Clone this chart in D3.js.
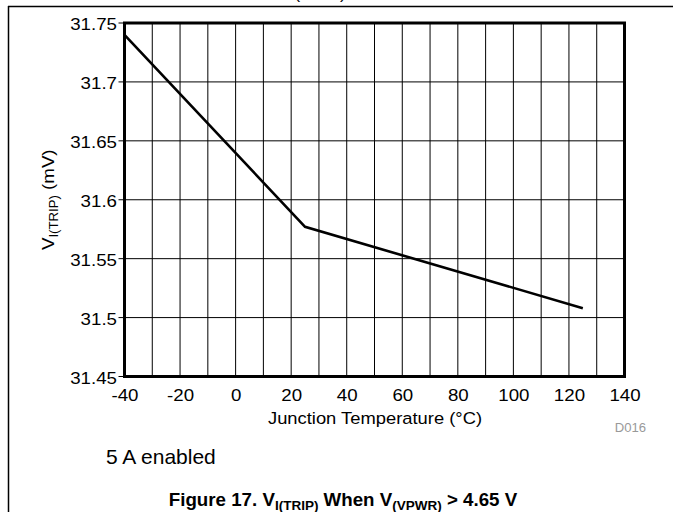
<!DOCTYPE html>
<html>
<head>
<meta charset="utf-8">
<script src="https://cdn.jsdelivr.net/npm/d3@7"></script>
<style>
  html, body { margin: 0; padding: 0; background: #fff; }
  svg { display: block; }
  text { font-family: "Liberation Sans", Arial, sans-serif; fill: #000; }
</style>
</head>
<body>
<svg id="chart" width="673" height="512"></svg>
<script>
// ---- data ----
const temperature = [-40, 25, 125];
const vTrip = [31.74, 31.577, 31.508];
const xTicks = [-40, -20, 0, 20, 40, 60, 80, 100, 120, 140];
const xGrid = d3.range(-40, 141, 10);
const yTicks = [31.45, 31.5, 31.55, 31.6, 31.65, 31.7, 31.75];
const yTickLabels = ["31.45", "31.5", "31.55", "31.6", "31.65", "31.7", "31.75"];

const SX = 1.1; // horizontal stretch of glyphs in reference
const svg = d3.select("#chart");

const x = d3.scaleLinear().domain([-40, 140]).range([124.5, 624.5]);
const y = d3.scaleLinear().domain([31.45, 31.75]).range([376.5, 23]);

// page rules
svg.append("line").attr("x1", 8).attr("x2", 673).attr("y1", 6.5).attr("y2", 6.5)
  .attr("stroke", "#000").attr("stroke-width", 1.5);
svg.append("line").attr("x1", 8.5).attr("x2", 8.5).attr("y1", 6).attr("y2", 512)
  .attr("stroke", "#000").attr("stroke-width", 1.5);

// clipped heading remnant (as in the reference)
svg.append("text").attr("transform", "translate(320,-1) scale(" + SX + ",1)")
  .attr("text-anchor", "middle").style("font-size", "16px").text("(TRIP)");

function stext(g, tx, ty, str, size, anchor, sx, weight) {
  return g.append("text")
    .attr("transform", `translate(${tx},${ty}) scale(${sx},1)`)
    .attr("text-anchor", anchor || "start")
    .style("font-size", size + "px")
    .style("font-weight", weight || "normal")
    .text(str);
}

// grid
const grid = svg.append("g");
grid.selectAll(".vg").data(xGrid).join("line")
  .attr("x1", d => x(d)).attr("x2", d => x(d))
  .attr("y1", y(31.75)).attr("y2", y(31.45))
  .attr("stroke", "#000").attr("stroke-width", 1);
grid.selectAll(".hg").data(yTicks).join("line")
  .attr("x1", x(-40) - 6).attr("x2", x(140))
  .attr("y1", d => y(d)).attr("y2", d => y(d))
  .attr("stroke", "#000").attr("stroke-width", 1);

// y axis labels
const yAx = svg.append("g").attr("transform", `translate(${x(-40)},0)`)
  .call(d3.axisLeft(y).tickValues(yTicks).tickFormat((d, i) => yTickLabels[i]).tickSize(0).tickPadding(0));
yAx.select(".domain").remove();
yAx.selectAll("text")
  .attr("x", null).attr("dy", null)
  .attr("transform", `translate(-7.5,6.5) scale(${SX},1)`)
  .attr("text-anchor", "end")
  .style("font-family", "Liberation Sans, Arial, sans-serif")
  .style("font-size", "17px").attr("fill", "#000");

// x axis labels
const xAx = svg.append("g").attr("transform", `translate(0,${y(31.45)})`)
  .call(d3.axisBottom(x).tickValues(xTicks).tickFormat(d => String(d)).tickSize(0).tickPadding(0));
xAx.select(".domain").remove();
xAx.selectAll("text")
  .attr("y", null).attr("dy", null)
  .attr("transform", `translate(0,24.5) scale(${SX},1)`)
  .attr("text-anchor", "middle")
  .style("font-family", "Liberation Sans, Arial, sans-serif")
  .style("font-size", "17px").attr("fill", "#000");

// data line
svg.append("path")
  .datum(temperature.map((t, i) => [t, vTrip[i]]))
  .attr("fill", "none").attr("stroke", "#000").attr("stroke-width", 2.6)
  .attr("stroke-linejoin", "miter")
  .attr("d", d3.line().x(d => x(d[0])).y(d => y(d[1])));

// frame
svg.append("rect")
  .attr("x", x(-40)).attr("y", y(31.75))
  .attr("width", x(140) - x(-40)).attr("height", y(31.45) - y(31.75))
  .attr("fill", "none").attr("stroke", "#000").attr("stroke-width", 3);

// axis titles
stext(svg, 375, 424, "Junction Temperature (°C)", 17, "middle", 1.08);

const yt = svg.append("text")
  .attr("transform", `translate(54,${(y(31.45) + y(31.75)) / 2}) rotate(-90) scale(${SX},1)`)
  .attr("text-anchor", "middle").style("font-size", "17px");
yt.append("tspan").text("V");
yt.append("tspan").attr("dy", 4).style("font-size", "12px").text("I(TRIP)");
yt.append("tspan").attr("dy", -4).text(" (mV)");

// small id
svg.append("text").attr("transform", "translate(646,432) scale(1.05,1)").attr("text-anchor", "end")
  .style("font-size", "12.5px").style("fill", "#999").text("D016");

// note
stext(svg, 106, 464, "5 A enabled", 20, "start", 1.05);

// caption
const cap = svg.append("text")
  .attr("transform", `translate(343,506) scale(1.04,1)`)
  .attr("text-anchor", "middle").style("font-size", "18px").style("font-weight", "bold");
cap.append("tspan").text("Figure 17. V");
cap.append("tspan").attr("dy", 4).style("font-size", "13px").text("I(TRIP)");
cap.append("tspan").attr("dy", -4).text(" When V");
cap.append("tspan").attr("dy", 4).style("font-size", "13px").text("(VPWR)");
cap.append("tspan").attr("dy", -4).text(" > 4.65 V");
</script>
</body>
</html>
